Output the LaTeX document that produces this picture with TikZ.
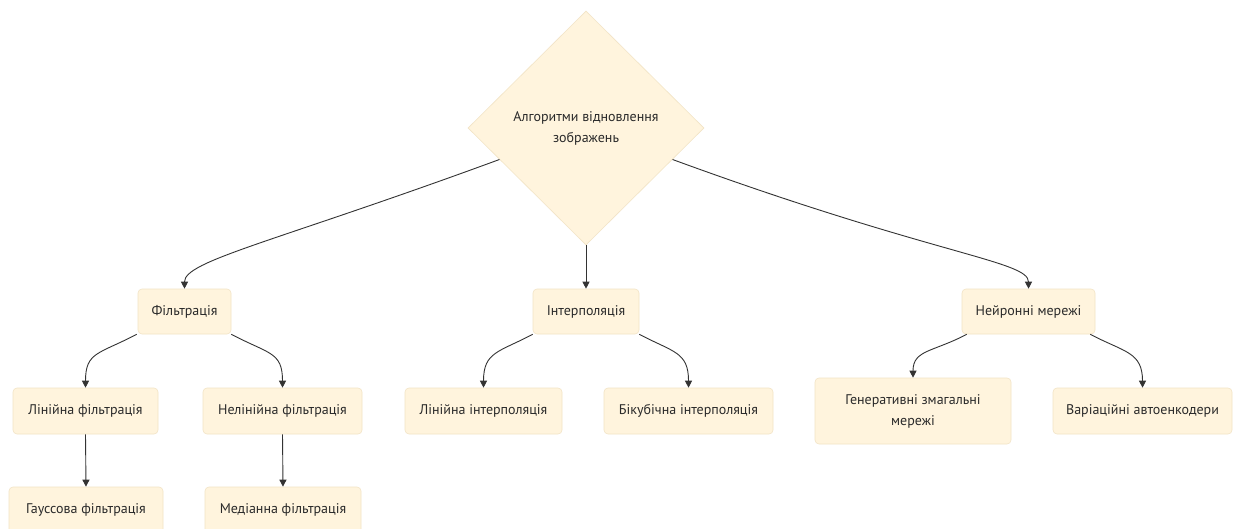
\documentclass[tikz,border=0pt]{standalone}
\usepackage{fontspec}
\setmainfont{PT Sans}
\usetikzlibrary{shapes.geometric,arrows.meta}
\definecolor{boxfill}{HTML}{FFF4DD}
\definecolor{boxline}{HTML}{F2E4C6}
\definecolor{txt}{HTML}{2A2A2A}
\definecolor{edge}{HTML}{333333}
\tikzset{
  box/.style={rectangle, rounded corners=4pt, fill=boxfill, draw=boxline, line width=0.6pt,
    text=txt, font=\fontsize{14}{21}\selectfont, align=center, inner sep=0pt},
  dia/.style={diamond, fill=boxfill, draw=boxline, line width=0.6pt, text=txt,
    font=\fontsize{14}{21}\selectfont, align=center, inner sep=0pt,
    minimum width=236pt, minimum height=234pt},
  conn/.style={draw=edge, line width=0.9pt, -{Triangle[length=7pt,width=7pt]}}
}
\begin{document}
\begin{tikzpicture}[x=1pt,y=-1pt]
\useasboundingbox (0,0) rectangle (1238,529);
\clip (0,0) rectangle (1238,529);
\fill[white] (0,0) rectangle (1238,529);
\node[dia] (root) at (586,128) {Алгоритми відновлення\\зображень};
\node[box, minimum width=93pt, minimum height=45pt] (fil) at (184.5,311.5) {Фільтрація};
\node[box, minimum width=106pt, minimum height=45pt] (int) at (586,311.5) {Інтерполяція};
\node[box, minimum width=133pt, minimum height=45pt] (nn) at (1028.5,311.5) {Нейронні мережі};
\node[box, minimum width=145pt, minimum height=46pt] (lf) at (85.5,411) {Лінійна фільтрація};
\node[box, minimum width=159pt, minimum height=46pt] (nf) at (282.5,411) {Нелінійна фільтрація};
\node[box, minimum width=157pt, minimum height=46pt] (li) at (483.5,411) {Лінійна інтерполяція};
\node[box, minimum width=169pt, minimum height=46pt] (bi) at (688.5,411) {Бікубічна інтерполяція};
\node[box, minimum width=196pt, minimum height=66pt] (gan) at (913,411) {Генеративні змагальні\\мережі};
\node[box, minimum width=179pt, minimum height=46pt] (vae) at (1142.5,411) {Варіаційні автоенкодери};
\node[box, minimum width=154pt, minimum height=46pt] (gf) at (86,510) {Гауссова фільтрація};
\node[box, minimum width=156pt, minimum height=46pt] (mf) at (283,510) {Медіанна фільтрація};
% connectors
\draw[conn] (root.200) .. controls +(-226,83) and +(0,-28) .. (fil.north);
\draw[conn] (root.south) -- (int.north);
\draw[conn] (root.-20) .. controls +(262,96) and +(0,-28) .. (nn.north);
\draw[conn] ([xshift=-1pt]fil.south west) .. controls +(-38,20) and +(0,-36) .. (lf.north);
\draw[conn] (fil.south east) .. controls +(38,20) and +(0,-36) .. (nf.north);
\draw[conn] (int.south west) .. controls +(-34,18) and +(0,-36) .. (li.north);
\draw[conn] (int.south east) .. controls +(34,18) and +(0,-36) .. (bi.north);
\draw[conn] ([xshift=5pt]nn.south west) .. controls +(-34,18) and +(0,-28) .. (gan.north);
\draw[conn] ([xshift=-5pt]nn.south east) .. controls +(34,18) and +(0,-36) .. (vae.north);
\draw[conn] (lf.south) -- (gf.north);
\draw[conn] (nf.south) -- (mf.north);
\end{tikzpicture}
\end{document}
